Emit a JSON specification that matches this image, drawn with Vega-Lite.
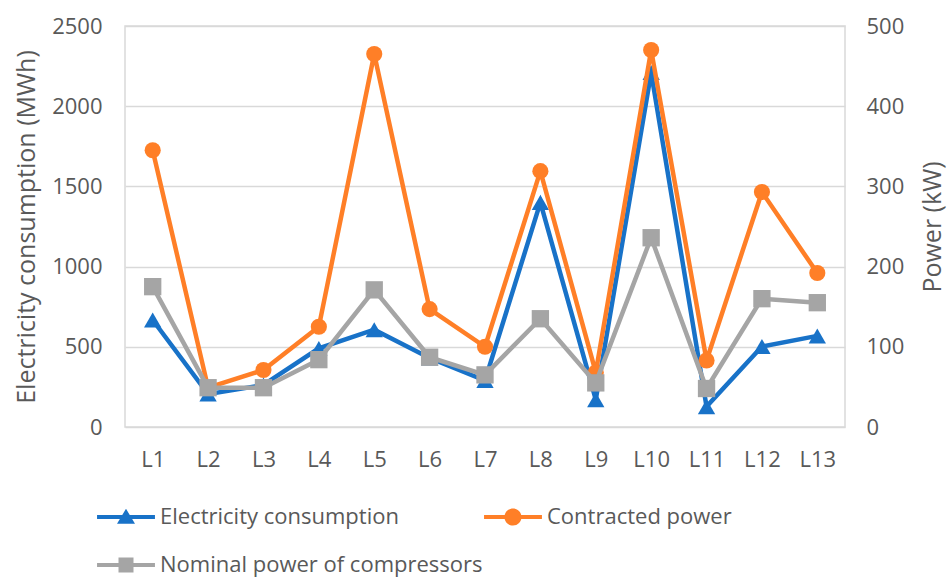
{
  "$schema": "https://vega.github.io/schema/vega-lite/v6.json",
  "width": 720,
  "height": 401,
  "autosize": "none",
  "padding": {"left": 125, "top": 26, "right": 104, "bottom": 150},
  "background": "white",
  "config": {
    "font": "Open Sans",
    "view": {"stroke": "#d9d9d9", "strokeWidth": 1.5},
    "axis": {"labelColor": "#595959", "titleColor": "#595959", "labelFontSize": 22, "titleFontSize": 25, "titleFontWeight": "normal", "ticks": false, "domain": false, "gridColor": "#d9d9d9", "gridWidth": 1.5, "labelOverlap": false}
  },
  "data": {
    "values": [
      {"cat": "L1", "series": "Electricity consumption", "value": 667},
      {"cat": "L2", "series": "Electricity consumption", "value": 205},
      {"cat": "L3", "series": "Electricity consumption", "value": 262},
      {"cat": "L4", "series": "Electricity consumption", "value": 490},
      {"cat": "L5", "series": "Electricity consumption", "value": 607},
      {"cat": "L6", "series": "Electricity consumption", "value": 430},
      {"cat": "L7", "series": "Electricity consumption", "value": 290},
      {"cat": "L8", "series": "Electricity consumption", "value": 1400},
      {"cat": "L9", "series": "Electricity consumption", "value": 170},
      {"cat": "L10", "series": "Electricity consumption", "value": 2210},
      {"cat": "L11", "series": "Electricity consumption", "value": 127},
      {"cat": "L12", "series": "Electricity consumption", "value": 502},
      {"cat": "L13", "series": "Electricity consumption", "value": 568},
      {"cat": "L1", "series": "Contracted power", "value": 345},
      {"cat": "L2", "series": "Contracted power", "value": 49},
      {"cat": "L3", "series": "Contracted power", "value": 71},
      {"cat": "L4", "series": "Contracted power", "value": 125},
      {"cat": "L5", "series": "Contracted power", "value": 465},
      {"cat": "L6", "series": "Contracted power", "value": 147},
      {"cat": "L7", "series": "Contracted power", "value": 100},
      {"cat": "L8", "series": "Contracted power", "value": 319},
      {"cat": "L9", "series": "Contracted power", "value": 68},
      {"cat": "L10", "series": "Contracted power", "value": 470},
      {"cat": "L11", "series": "Contracted power", "value": 83},
      {"cat": "L12", "series": "Contracted power", "value": 293},
      {"cat": "L13", "series": "Contracted power", "value": 192},
      {"cat": "L1", "series": "Nominal power of compressors", "value": 175},
      {"cat": "L2", "series": "Nominal power of compressors", "value": 49},
      {"cat": "L3", "series": "Nominal power of compressors", "value": 49},
      {"cat": "L4", "series": "Nominal power of compressors", "value": 84},
      {"cat": "L5", "series": "Nominal power of compressors", "value": 171},
      {"cat": "L6", "series": "Nominal power of compressors", "value": 87},
      {"cat": "L7", "series": "Nominal power of compressors", "value": 65},
      {"cat": "L8", "series": "Nominal power of compressors", "value": 135},
      {"cat": "L9", "series": "Nominal power of compressors", "value": 55},
      {"cat": "L10", "series": "Nominal power of compressors", "value": 236},
      {"cat": "L11", "series": "Nominal power of compressors", "value": 48},
      {"cat": "L12", "series": "Nominal power of compressors", "value": 160},
      {"cat": "L13", "series": "Nominal power of compressors", "value": 155}
    ]
  },
  "encoding": {
    "x": {"field": "cat", "type": "ordinal", "sort": null, "scale": {"type": "point", "padding": 0.5}, "axis": {"title": null, "labelAngle": 0, "labelPadding": 22, "grid": false}}
  },
  "layer": [
    {
      "transform": [{"filter": "datum.series === 'Electricity consumption'"}],
      "mark": {"type": "line", "strokeWidth": 4.5, "point": {"shape": "triangle-up", "size": 300, "filled": true, "opacity": 1}},
      "encoding": {
        "y": {"field": "value", "type": "quantitative", "scale": {"domain": [0, 2500]}, "axis": {"title": "Electricity consumption (MWh)", "orient": "left", "format": "d", "values": [0, 500, 1000, 1500, 2000, 2500], "labelPadding": 23, "titlePadding": 12, "grid": true}},
        "color": {"field": "series", "type": "nominal", "scale": {"domain": ["Electricity consumption", "Contracted power", "Nominal power of compressors"], "range": ["#1872C8", "#FF7F27", "#A5A5A5"]},
          "legend": {"orient": "none", "legendX": -14, "legendY": 476, "direction": "horizontal", "columns": 2, "title": null, "labelFontSize": 22, "labelColor": "#595959", "labelLimit": 0, "symbolSize": 900, "labelOffset": 19, "columnPadding": 1, "rowPadding": 22, "padding": 0,
            "encode": {"symbols": {"update": {
              "shape": {"signal": "datum.value === 'Electricity consumption' ? 'M-1.93,-0.14H1.93V0.14H-1.93Z M0,-0.55L0.6,0.45H-0.6Z' : datum.value === 'Contracted power' ? 'M-1.93,-0.14H1.93V0.14H-1.93Z M-0.57,0A0.57,0.57 0 1,1 0.57,0A0.57,0.57 0 1,1 -0.57,0Z' : 'M-1.93,-0.14H1.93V0.14H-1.93Z M-0.5,-0.5H0.5V0.5H-0.5Z'"},
              "fill": {"scale": "color", "field": "value"},
              "fillOpacity": {"value": 1},
              "stroke": {"value": "transparent"},
              "strokeWidth": {"value": 0}
            }}}}
        }
      }
    },
    {
      "layer": [
        {
          "transform": [{"filter": "datum.series === 'Contracted power'"}],
          "mark": {"type": "line", "strokeWidth": 4.5, "point": {"shape": "circle", "size": 260, "filled": true, "opacity": 1}},
          "encoding": {
            "y": {"field": "value", "type": "quantitative", "scale": {"domain": [0, 500]}, "axis": {"title": "Power (kW)", "orient": "right", "values": [0, 100, 200, 300, 400, 500], "labelPadding": 21, "titlePadding": 17, "titleAngle": 270, "titleBaseline": "top", "grid": false}},
            "color": {"field": "series", "type": "nominal"}
          }
        },
        {
          "transform": [{"filter": "datum.series === 'Nominal power of compressors'"}],
          "mark": {"type": "line", "strokeWidth": 4.5, "point": {"shape": "square", "size": 300, "filled": true, "opacity": 1}},
          "encoding": {
            "y": {"field": "value", "type": "quantitative", "scale": {"domain": [0, 500]}, "axis": {"title": "Power (kW)", "orient": "right", "values": [0, 100, 200, 300, 400, 500], "labelPadding": 21, "titlePadding": 17, "titleAngle": 270, "titleBaseline": "top", "grid": false}},
            "color": {"field": "series", "type": "nominal"}
          }
        }
      ]
    }
  ],
  "resolve": {"scale": {"y": "independent"}}
}
